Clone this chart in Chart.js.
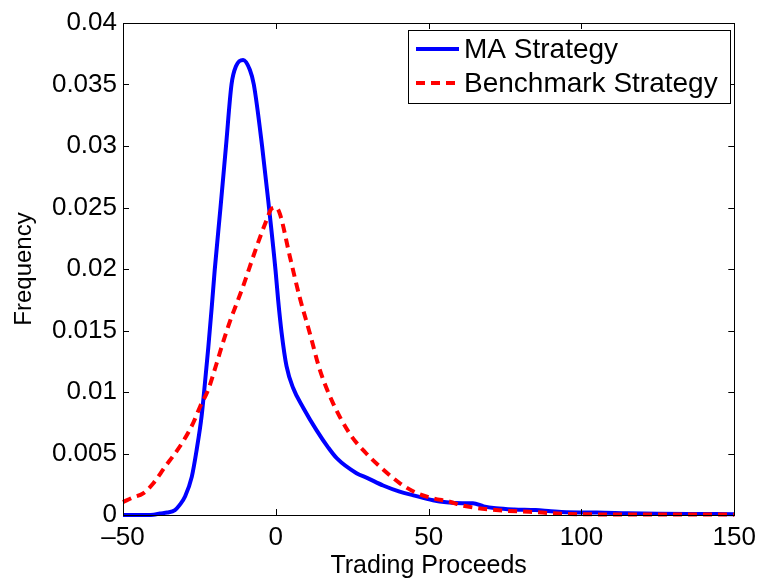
<!DOCTYPE html>
<html>
<head>
<meta charset="utf-8">
<script src="https://cdn.jsdelivr.net/npm/chart.js@4.4.0/dist/chart.umd.min.js"></script>
<style>
  html, body { margin: 0; padding: 0; background: #fff; }
  #wrap { width: 763px; height: 579px; }
</style>
</head>
<body>
<div id="wrap"><canvas id="chart" width="763" height="579"></canvas></div>
<script>
// datos
const maX = [-50, -45, -40, -37.9, -35.5, -33, -31.5, -29.7, -27.5, -25.9, -24.3, -23.2, -22.1, -21, -20, -18.1, -16.3, -14.5, -13, -10.7, -8.5, -7.2, -4.5, -2.5, -0.1, 0.75, 1.9, 3.5, 5.7, 9, 13.3, 17.1, 20, 26.4, 30, 35.1, 40.5, 45, 51.4, 55.8, 61, 64.5, 68, 72, 78, 85, 90, 95, 105, 115, 125, 135, 150];
const maY = [0, 0, 0.00003, 0.00012, 0.0002, 0.0004, 0.0008, 0.0015, 0.0031, 0.0053, 0.008, 0.0107, 0.0136, 0.0168, 0.0199, 0.025, 0.030, 0.035, 0.0365, 0.037, 0.0362, 0.035, 0.030, 0.0256, 0.0199, 0.0175, 0.0148, 0.0121, 0.0103, 0.0087, 0.0069, 0.0055, 0.0046, 0.0034, 0.003, 0.0024, 0.0019, 0.0016, 0.0012, 0.00103, 0.00095, 0.00095, 0.0007, 0.00055, 0.00045, 0.0004, 0.0003, 0.00022, 0.0002, 0.00014, 0.0001, 0.00008, 0.00007];

const benchX = [-50, -47, -43.4, -40, -36.3, -33, -30.3, -27, -24.8, -22.1, -19.4, -17.2, -14.5, -12.8, -10.7, -6.3, -3, -1.4, 0, 1.3, 4.6, 7.8, 11.1, 14.4, 18.7, 24.2, 29.6, 35.1, 40.5, 46, 51.4, 56.9, 61.2, 72, 83, 94, 105, 150];
const benchY = [0.00105, 0.0014, 0.00176, 0.0026, 0.0039, 0.005, 0.006, 0.0075, 0.0088, 0.0102, 0.0123, 0.0141, 0.0161, 0.0172, 0.0186, 0.0218, 0.024, 0.0249, 0.025, 0.0245, 0.021, 0.0177, 0.0148, 0.0118, 0.0091, 0.0066, 0.005, 0.0037, 0.0026, 0.0018, 0.00136, 0.00108, 0.00076, 0.0004, 0.00026, 0.0001, 0.00005, 0.00003];

const xTicks = [-50, 0, 50, 100, 150];
const yTicks = [0, 0.005, 0.01, 0.015, 0.02, 0.025, 0.03, 0.035, 0.04];

const FONT = "'Liberation Sans', Arial, Helvetica, sans-serif";

function puntos(xs, ys) {
  return xs.map((x, i) => ({ x: x, y: ys[i] }));
}

// marcas hacia adentro, caja y leyenda estilo MATLAB
const cajaPlugin = {
  id: "caja",
  afterDatasetsDraw(chart) {
    const { ctx, chartArea: a, scales } = chart;
    const len = 6;
    ctx.save();
    ctx.strokeStyle = "#000";
    ctx.lineWidth = 1;
    ctx.beginPath();
    xTicks.forEach(v => {
      const px = Math.round(scales.x.getPixelForValue(v)) + 0.5;
      ctx.moveTo(px, a.bottom); ctx.lineTo(px, a.bottom - len);
      ctx.moveTo(px, a.top); ctx.lineTo(px, a.top + len);
    });
    yTicks.forEach(v => {
      const py = Math.round(scales.y.getPixelForValue(v)) + 0.5;
      ctx.moveTo(a.left, py); ctx.lineTo(a.left + len, py);
      ctx.moveTo(a.right, py); ctx.lineTo(a.right - len, py);
    });
    ctx.stroke();
    ctx.strokeRect(Math.round(a.left) + 0.5, Math.round(a.top) + 0.5, Math.round(a.right - a.left), Math.round(a.bottom - a.top));

    // leyenda
    const lx = 408, ly = 30, lw = 322, lh = 73;
    ctx.fillStyle = "#fff";
    ctx.fillRect(lx, ly, lw, lh);
    ctx.strokeStyle = "#000";
    ctx.strokeRect(lx + 0.5, ly + 0.5, lw, lh);
    const orden = [1, 0];
    ctx.font = "28px " + FONT;
    ctx.textBaseline = "middle";
    orden.forEach((di, i) => {
      const ds = chart.data.datasets[di];
      const y = ly + 19 + i * 34;
      ctx.strokeStyle = ds.borderColor;
      ctx.lineWidth = ds.borderWidth;
      ctx.setLineDash(ds.borderDash || []);
      ctx.beginPath();
      ctx.moveTo(lx + 8, y); ctx.lineTo(lx + 51, y);
      ctx.stroke();
      ctx.setLineDash([]);
      ctx.fillStyle = "#000";
      ctx.fillText(ds.label, lx + 56, y + 1);
    });
    ctx.restore();
  }
};

new Chart(document.getElementById("chart"), {
  type: "line",
  data: {
    datasets: [
      {
        label: "Benchmark Strategy",
        data: puntos(benchX, benchY),
        borderColor: "#ff0000",
        borderWidth: 4,
        borderDash: [9, 6],
        pointRadius: 0,
        fill: false,
        cubicInterpolationMode: "monotone",
        clip: 5,
        order: 0,
      },
      {
        label: "MA Strategy",
        data: puntos(maX, maY),
        borderColor: "#0000ff",
        borderWidth: 4,
        pointRadius: 0,
        fill: false,
        cubicInterpolationMode: "monotone",
        clip: 5,
        order: 1,
      },
    ],
  },
  options: {
    responsive: false,
    animation: false,
    layout: { padding: { top: 23, right: 26, left: 0, bottom: 0 } },
    plugins: { legend: { display: false }, tooltip: { enabled: false } },
    scales: {
      x: {
        type: "linear",
        min: -50,
        max: 150,
        afterBuildTicks: s => { s.ticks = xTicks.map(v => ({ value: v })); },
        afterFit: s => { s.height = 64; },
        grid: { display: false, drawTicks: false },
        border: { display: true, color: "#000", width: 1 },
        ticks: {
          padding: 7,
          color: "#000",
          font: { family: FONT, size: 26 },
          maxRotation: 0,
          callback: v => String(v).replace("-", "\u2013"),
        },
        title: {
          display: true,
          text: "Trading Proceeds",
          color: "#000",
          font: { family: FONT, size: 25 },
          padding: { top: 0, bottom: -2 },
        },
      },
      y: {
        min: 0,
        max: 0.04,
        afterBuildTicks: s => { s.ticks = yTicks.map(v => ({ value: v })); },
        afterFit: s => { s.width = 123; },
        grid: { display: false, drawTicks: false },
        border: { display: true, color: "#000", width: 1 },
        ticks: {
          padding: 6,
          color: "#000",
          font: { family: FONT, size: 26 },
          callback: v => String(+v.toFixed(3)),
        },
        title: {
          display: true,
          text: "Frequency",
          color: "#000",
          font: { family: FONT, size: 24 },
          padding: { top: 10, bottom: 0 },
        },
      },
    },
  },
  plugins: [cajaPlugin],
});
</script>
</body>
</html>
